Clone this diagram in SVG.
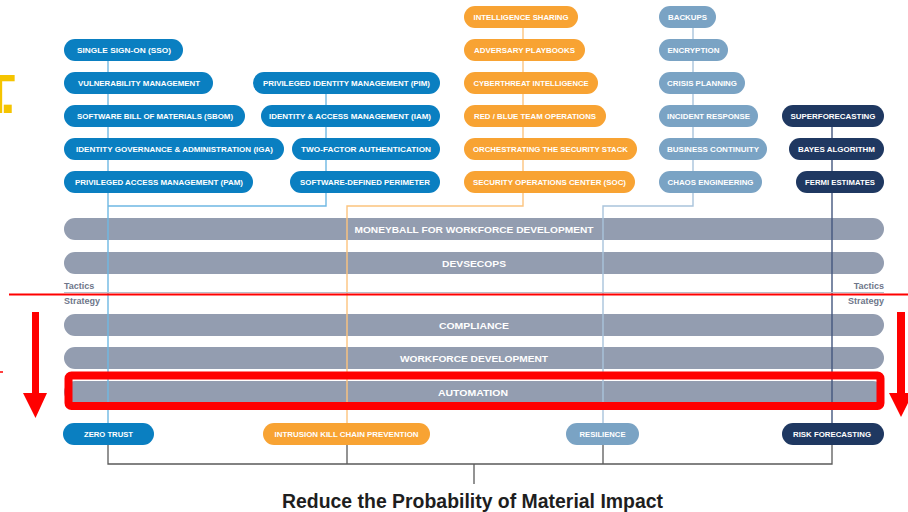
<svg xmlns="http://www.w3.org/2000/svg" width="908" height="512" viewBox="0 0 908 512">
<defs>
<style>
.t{font-family:"Liberation Sans",Arial,sans-serif;font-weight:700;font-size:8px;fill:#ffffff;text-anchor:middle}
.bt{font-family:"Liberation Sans",Arial,sans-serif;font-weight:700;font-size:9.5px;fill:#ffffff;text-anchor:middle}
.blue{fill:#0a7fc1}
.org{fill:#f8a333}
.lb{fill:#7aa3c4}
.nv{fill:#1f3861}
.bar{fill:#939db0}
.lbl{font-family:"Liberation Sans",Arial,sans-serif;font-weight:700;font-size:9px;fill:#6e768a}
.cb{stroke:#6fb8e3;stroke-width:1.4;fill:none}
.co{stroke:#fcc47e;stroke-width:1.4;fill:none}
.cl{stroke:#a9c4dc;stroke-width:1.4;fill:none}
.cn{stroke:#44567e;stroke-width:1.4;fill:none}
.cg{stroke:#5a5a5a;stroke-width:1.3;fill:none}
</style>
</defs>
<rect width="908" height="512" fill="#ffffff"/>
<text x="-19" y="113" font-family="Liberation Sans,Arial,sans-serif" font-weight="700" font-size="56" fill="#f5c400" letter-spacing="-9">T.</text>

<g id="bars">
<g id="bar-moneyball"><rect class="bar" x="64" y="218" width="820" height="22" rx="11"/><text class="bt" x="474" y="232.5" textLength="239" lengthAdjust="spacingAndGlyphs">MONEYBALL FOR WORKFORCE DEVELOPMENT</text></g>
<g id="bar-devsecops"><rect class="bar" x="64" y="252" width="820" height="22" rx="11"/><text class="bt" x="474" y="266.5" textLength="64" lengthAdjust="spacingAndGlyphs">DEVSECOPS</text></g>
<g id="bar-compliance"><rect class="bar" x="64" y="314" width="820" height="22" rx="11"/><text class="bt" x="474" y="328.5" textLength="70" lengthAdjust="spacingAndGlyphs">COMPLIANCE</text></g>
<g id="bar-workforce"><rect class="bar" x="64" y="347" width="820" height="22" rx="11"/><text class="bt" x="474" y="361.5" textLength="148" lengthAdjust="spacingAndGlyphs">WORKFORCE DEVELOPMENT</text></g>
<g id="bar-automation"><rect class="bar" x="64" y="381" width="820" height="22" rx="11"/><text class="bt" x="473" y="395.5" textLength="70" lengthAdjust="spacingAndGlyphs">AUTOMATION</text></g>
</g>

<g id="connectors">
<path class="cb" d="M108,61 V423 M326,94 V206 H108"/>
<path class="co" d="M523,28 V206 H347 V423"/>
<path class="cl" d="M693,28 V206 H603 V423"/>
<path class="cn" d="M832,127 V423"/>
<path class="cg" d="M108,445 V464 H832 V445 M347,445 V464 M603,445 V464 M474,464 V484"/>
<line x1="64" y1="292.5" x2="884" y2="292.5" stroke="#b9bdc9" stroke-width="1"/>
</g>

<g id="labels">
<text class="lbl" x="64" y="289">Tactics</text>
<text class="lbl" x="64" y="304">Strategy</text>
<text class="lbl" x="884" y="289" text-anchor="end">Tactics</text>
<text class="lbl" x="884" y="304" text-anchor="end">Strategy</text>
</g>

<g id="n-sso"><rect class="blue" x="64" y="39" width="119" height="22" rx="11"/><text class="t" x="124" y="53" textLength="94" lengthAdjust="spacingAndGlyphs">SINGLE SIGN-ON (SSO)</text></g>
<g id="n-vuln"><rect class="blue" x="64" y="72" width="149" height="22" rx="11"/><text class="t" x="139" y="86" textLength="122" lengthAdjust="spacingAndGlyphs">VULNERABILITY MANAGEMENT</text></g>
<g id="n-sbom"><rect class="blue" x="64" y="105" width="181" height="22" rx="11"/><text class="t" x="155" y="119" textLength="156" lengthAdjust="spacingAndGlyphs">SOFTWARE BILL OF MATERIALS (SBOM)</text></g>
<g id="n-iga"><rect class="blue" x="64" y="138" width="220" height="22" rx="11"/><text class="t" x="174.5" y="152" textLength="197" lengthAdjust="spacingAndGlyphs">IDENTITY GOVERNANCE &amp; ADMINISTRATION (IGA)</text></g>
<g id="n-pam"><rect class="blue" x="64" y="171" width="189" height="22" rx="11"/><text class="t" x="159" y="185" textLength="168" lengthAdjust="spacingAndGlyphs">PRIVILEGED ACCESS MANAGEMENT (PAM)</text></g>

<g id="n-pim"><rect class="blue" x="253" y="72" width="187" height="22" rx="11"/><text class="t" x="346.5" y="86" textLength="167" lengthAdjust="spacingAndGlyphs">PRIVILEGED IDENTITY MANAGEMENT (PIM)</text></g>
<g id="n-iam"><rect class="blue" x="261" y="105" width="179" height="22" rx="11"/><text class="t" x="350" y="119" textLength="162" lengthAdjust="spacingAndGlyphs">IDENTITY &amp; ACCESS MANAGEMENT (IAM)</text></g>
<g id="n-2fa"><rect class="blue" x="292" y="138" width="148" height="22" rx="11"/><text class="t" x="366" y="152" textLength="130" lengthAdjust="spacingAndGlyphs">TWO-FACTOR AUTHENTICATION</text></g>
<g id="n-sdp"><rect class="blue" x="290" y="171" width="150" height="22" rx="11"/><text class="t" x="365" y="185" textLength="130" lengthAdjust="spacingAndGlyphs">SOFTWARE-DEFINED PERIMETER</text></g>

<g id="n-intel"><rect class="org" x="464" y="6" width="114" height="22" rx="11"/><text class="t" x="521" y="20" textLength="95" lengthAdjust="spacingAndGlyphs">INTELLIGENCE SHARING</text></g>
<g id="n-adv"><rect class="org" x="464" y="39" width="121" height="22" rx="11"/><text class="t" x="524.5" y="53" textLength="101" lengthAdjust="spacingAndGlyphs">ADVERSARY PLAYBOOKS</text></g>
<g id="n-cti"><rect class="org" x="464" y="72" width="134" height="22" rx="11"/><text class="t" x="531" y="86" textLength="115" lengthAdjust="spacingAndGlyphs">CYBERTHREAT INTELLIGENCE</text></g>
<g id="n-rb"><rect class="org" x="464" y="105" width="142" height="22" rx="11"/><text class="t" x="535" y="119" textLength="122" lengthAdjust="spacingAndGlyphs">RED / BLUE TEAM OPERATIONS</text></g>
<g id="n-orch"><rect class="org" x="464" y="138" width="173" height="22" rx="11"/><text class="t" x="550.5" y="152" textLength="155" lengthAdjust="spacingAndGlyphs">ORCHESTRATING THE SECURITY STACK</text></g>
<g id="n-soc"><rect class="org" x="464" y="171" width="171" height="22" rx="11"/><text class="t" x="549.5" y="185" textLength="153" lengthAdjust="spacingAndGlyphs">SECURITY OPERATIONS CENTER (SOC)</text></g>

<g id="n-backups"><rect class="lb" x="659" y="6" width="57" height="22" rx="11"/><text class="t" x="687.5" y="20" textLength="39" lengthAdjust="spacingAndGlyphs">BACKUPS</text></g>
<g id="n-enc"><rect class="lb" x="659" y="39" width="69" height="22" rx="11"/><text class="t" x="693.5" y="53" textLength="52" lengthAdjust="spacingAndGlyphs">ENCRYPTION</text></g>
<g id="n-crisis"><rect class="lb" x="659" y="72" width="86" height="22" rx="11"/><text class="t" x="702" y="86" textLength="70" lengthAdjust="spacingAndGlyphs">CRISIS PLANNING</text></g>
<g id="n-ir"><rect class="lb" x="659" y="105" width="99" height="22" rx="11"/><text class="t" x="708.5" y="119" textLength="83" lengthAdjust="spacingAndGlyphs">INCIDENT RESPONSE</text></g>
<g id="n-bc"><rect class="lb" x="659" y="138" width="108" height="22" rx="11"/><text class="t" x="713" y="152" textLength="92" lengthAdjust="spacingAndGlyphs">BUSINESS CONTINUITY</text></g>
<g id="n-chaos"><rect class="lb" x="659" y="171" width="103" height="22" rx="11"/><text class="t" x="710.5" y="185" textLength="86" lengthAdjust="spacingAndGlyphs">CHAOS ENGINEERING</text></g>

<g id="n-super"><rect class="nv" x="782" y="105" width="102" height="22" rx="11"/><text class="t" x="833" y="119" textLength="85" lengthAdjust="spacingAndGlyphs">SUPERFORECASTING</text></g>
<g id="n-bayes"><rect class="nv" x="789" y="138" width="95" height="22" rx="11"/><text class="t" x="836.5" y="152" textLength="77" lengthAdjust="spacingAndGlyphs">BAYES ALGORITHM</text></g>
<g id="n-fermi"><rect class="nv" x="796" y="171" width="88" height="22" rx="11"/><text class="t" x="840" y="185" textLength="70" lengthAdjust="spacingAndGlyphs">FERMI ESTIMATES</text></g>

<g id="n-zero"><rect class="blue" x="63" y="423" width="91" height="22" rx="11"/><text class="t" x="108.5" y="437" textLength="49" lengthAdjust="spacingAndGlyphs">ZERO TRUST</text></g>
<g id="n-ikc"><rect class="org" x="263" y="423" width="167" height="22" rx="11"/><text class="t" x="346.5" y="437" textLength="144" lengthAdjust="spacingAndGlyphs">INTRUSION KILL CHAIN PREVENTION</text></g>
<g id="n-res"><rect class="lb" x="566" y="423" width="73" height="22" rx="11"/><text class="t" x="602.5" y="437" textLength="46" lengthAdjust="spacingAndGlyphs">RESILIENCE</text></g>
<g id="n-risk"><rect class="nv" x="782" y="423" width="102" height="22" rx="11"/><text class="t" x="832" y="437" textLength="78" lengthAdjust="spacingAndGlyphs">RISK FORECASTING</text></g>

<text x="472.5" y="508" font-family="Liberation Sans,Arial,sans-serif" font-weight="700" font-size="20" fill="#1e1e1e" text-anchor="middle" textLength="381" lengthAdjust="spacingAndGlyphs">Reduce the Probability of Material Impact</text>

<g id="annotations">
<line x1="9" y1="294.5" x2="908" y2="294.5" stroke="#ff0000" stroke-width="1.8"/>
<rect x="68.5" y="375.5" width="812" height="30.5" rx="3" fill="none" stroke="#ff0000" stroke-width="8"/>
<path d="M32,312 H39 V393 H47 L35.5,418 L23,393 H32 Z" fill="#ff0000"/>
<path d="M897,312 H905 V393 H913 L901,417 L889,393 H897 Z" fill="#ff0000"/>
<line x1="0" y1="372" x2="3" y2="372" stroke="#ff0000" stroke-width="1.5"/>
</g>
</svg>
